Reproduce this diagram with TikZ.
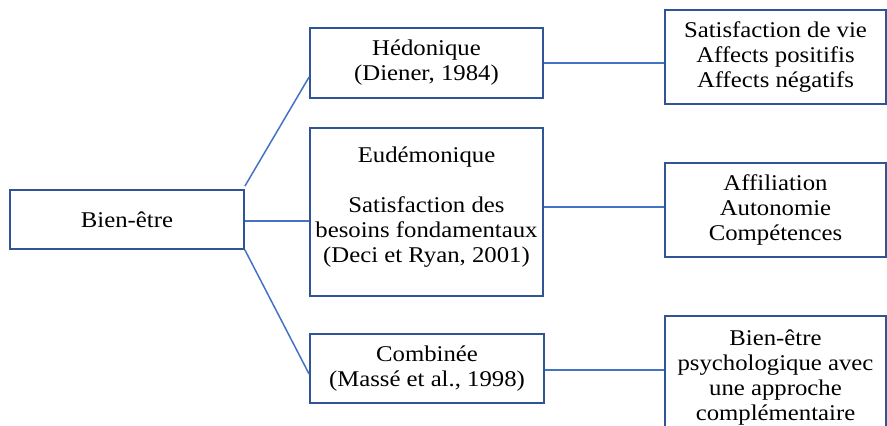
\documentclass[tikz,border=0pt]{standalone}
\usepackage{fontspec}
\setmainfont{Liberation Serif}[FakeStretch=1.1]
\definecolor{boxblue}{RGB}{47,85,151}
\definecolor{lineblue}{RGB}{68,114,196}
\begin{document}
\begin{tikzpicture}[x=1pt,y=-1pt,
  box/.style={draw=boxblue,line width=1.8pt,fill=white,rectangle,inner sep=0pt,align=center,
    font=\fontsize{22.5}{25}\selectfont},
  txt/.style={inner sep=0pt,align=center,font=\fontsize{22.5}{25}\selectfont},
  conn/.style={draw=lineblue,line width=1.5pt}]
\useasboundingbox (0,0) rectangle (887,426);
\node[box,minimum width=234pt,minimum height=59pt] (bien) at (127,219.5) {Bien-être};
\node[box,minimum width=233pt,minimum height=70pt] (hed) at (426.5,63) {Hédonique\\(Diener, 1984)};
\node[box,minimum width=233pt,minimum height=168pt] (eud) at (426.5,212) {};
\node[txt] (eudtext) at (426.5,207) {Eudémonique\\[25pt]Satisfaction des\\besoins fondamentaux\\(Deci et Ryan, 2001)};
\node[box,minimum width=234pt,minimum height=69pt] (comb) at (427,368.5) {Combinée\\(Massé et al., 1998)};
\node[box,minimum width=221pt,minimum height=94pt] (r1) at (775.5,57) {Satisfaction de vie\\Affects positifis\\Affects négatifs};
\node[box,minimum width=221pt,minimum height=94pt] (r2) at (775.5,210) {Affiliation\\Autonomie\\Compétences};
\node[box,minimum width=221pt,minimum height=124pt] (r3) at (775.5,378) {Bien-être\\psychologique avec\\une approche\\complémentaire};
\draw[conn] ([yshift=3pt]bien.north east) -- ([yshift=-14pt]hed.west);
\draw[conn] ([yshift=-1.5pt]bien.east) -- ([yshift=-1.5pt]bien.east -| eud.west);
\draw[conn] (bien.south east) -- ([yshift=-5.5pt]comb.west);
\draw[conn] (hed.east) -- (hed.east -| r1.west);
\draw[conn] ([yshift=5pt]eud.east) -- ([yshift=5pt]eud.east -| r2.west);
\draw[conn] ([yshift=-1.5pt]comb.east) -- ([yshift=-1.5pt]comb.east -| r3.west);
\end{tikzpicture}
\end{document}
